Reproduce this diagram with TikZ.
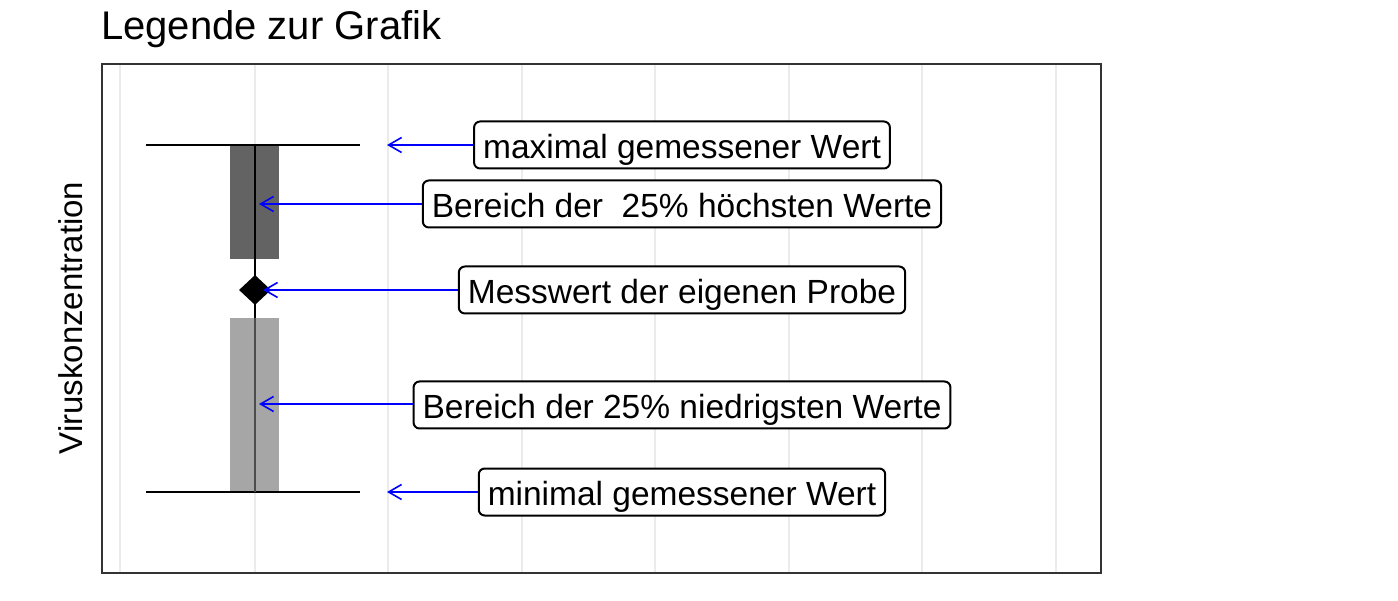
\documentclass[tikz,border=0pt]{standalone}
\usepackage{fontspec}
\setmainfont{Liberation Sans}
\usetikzlibrary{arrows.meta,shapes.geometric}
\begin{document}
\begin{tikzpicture}[x=1pt,y=-1pt,
  gridline/.style={draw=black!8, line width=1.3pt},
  frame/.style={draw=black!80, line width=2pt},
  whisker/.style={draw=black, line width=2pt},
  pointer/.style={draw=blue, line width=2pt,
    -{Straight Barb[length=13pt,width=15pt,line width=1.6pt]}},
  callout/.style={draw=black, line width=2pt, rounded corners=6pt, fill=white,
    inner xsep=9pt, inner ysep=0pt, minimum height=47pt,
    font=\fontsize{33.5}{40}\selectfont, text height=29pt, text depth=2pt},
]
\useasboundingbox (0,0) rectangle (1398,601);

% title and axis label
\node[anchor=base west, inner sep=0pt, font=\fontsize{40}{48}\selectfont]
  (title) at (101,40) {Legende zur Grafik};
\node[rotate=90, inner sep=0pt, font=\fontsize{33}{40}\selectfont]
  (ylab) at (71,318) {Viruskonzentration};

% vertical grid lines of the panel
\foreach \gx in {120,255,388,522,655,789,922,1056}
  \draw[gridline] (\gx,65) -- (\gx,572);

% quartile boxes
\fill[black!61] (230,145) rectangle (279,259);
\fill[black!35] (230,318) rectangle (279,492);

% whiskers and centre line
\draw[whisker] (146,145) -- (360,145);
\draw[whisker] (146,492) -- (360,492);
\draw[black, line width=1.5pt] (255,145) -- (255,318);
\draw[black!70, line width=1.5pt] (255,318) -- (255,492);

% own sample value
\node[diamond, fill=black, inner sep=0pt, minimum width=32pt, minimum height=30pt]
  (probe) at (255,290) {};

% pointer targets
\coordinate (tmax) at (387,145);
\coordinate (thigh) at (259,204);
\coordinate (tprobe) at (263,290);
\coordinate (tlow) at (259,404);
\coordinate (tmin) at (387,492);

% callouts
\node[callout] (lmax) at (682,145) {maximal gemessener Wert};
\node[callout] (lhigh) at (682,204) {Bereich der\ \ 25\% höchsten Werte};
\node[callout] (lprobe) at (682,290) {Messwert der eigenen Probe};
\node[callout] (llow) at (682,405) {Bereich der 25\% niedrigsten Werte};
\node[callout] (lmin) at (682,492) {minimal gemessener Wert};

\draw[pointer] (lmax.west |- tmax) -- (tmax);
\draw[pointer] (lhigh.west |- thigh) -- (thigh);
\draw[pointer] (lprobe.west |- tprobe) -- (tprobe);
\draw[pointer] (llow.west |- tlow) -- (tlow);
\draw[pointer] (lmin.west |- tmin) -- (tmin);

% panel border
\draw[frame] (102,64) rectangle (1101,573);
\end{tikzpicture}
\end{document}
